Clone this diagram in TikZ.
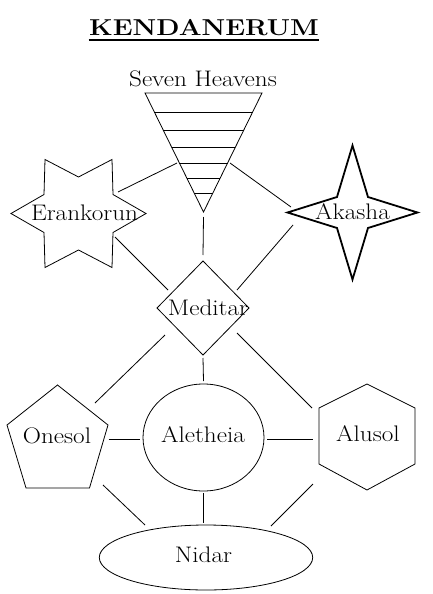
\documentclass[tikz,border=0pt]{standalone}
\usepackage{fontspec}
\usetikzlibrary{calc}
\newcommand\gw[1]{\scalebox{1.12}[1]{#1}}
\begin{document}
\begin{tikzpicture}[x=1pt,y=-1pt,line width=0.8pt,
  lbl/.style={font=\fontsize{22.5}{24}\selectfont\addfontfeature{FakeBold=0.6},inner sep=0pt,anchor=base},
  thick star/.style={line width=1.8pt,line join=miter},
  conn/.style={line width=0.8pt}]
\useasboundingbox (0,0) rectangle (432,594);

% title
\node[inner sep=0pt,anchor=base,font=\fontsize{23}{26}\selectfont\bfseries] (title) at (204,36) {\scalebox{1.17}[1]{KENDANERUM}};
\draw[line width=1.3pt] ([yshift=-4pt]title.base west) -- ([yshift=-4pt]title.base east);

% Seven Heavens
\node[lbl] (heav) at (203,86) {\gw{Seven Heavens}};
\coordinate (tri) at (203.5,152);
\draw ($(tri)+(-58.5,-59)$) coordinate (tl) -- ($(tri)+(58.5,-59)$) coordinate (tr)
  -- ($(tri)+(0,60)$) coordinate (ap) -- cycle;
\foreach \f in {0.160,0.311,0.454,0.588,0.714,0.840}
  \draw ($(tl)!\f!(ap)$) -- ($(tr)!\f!(ap)$);

% Erankorun
\coordinate (eran) at (78.5,213.5);
\draw[line join=miter] ($(eran)+(67.5,0)$) -- ($(eran)+(34.5,19)$) -- ($(eran)+(33.5,54)$)
  -- ($(eran)+(0,36.5)$) -- ($(eran)+(-33.5,54)$) -- ($(eran)+(-34.5,19)$)
  -- ($(eran)+(-67.5,0)$) -- ($(eran)+(-34.5,-19)$) -- ($(eran)+(-33.5,-54)$)
  -- ($(eran)+(0,-36.5)$) -- ($(eran)+(33.5,-54)$) -- ($(eran)+(34.5,-19)$) -- cycle;
\node[lbl] (erant) at (84.5,220) {\gw{Erankorun}};

% Akasha
\coordinate (ak) at (352.5,212.5);
\draw[thick star] ($(ak)+(0,-67)$) -- ($(ak)+(15.5,-15.5)$) -- ($(ak)+(65,0)$)
  -- ($(ak)+(15.5,15.5)$) -- ($(ak)+(0,67)$) -- ($(ak)+(-15.5,15.5)$)
  -- ($(ak)+(-65,0)$) -- ($(ak)+(-15.5,-15.5)$) -- cycle;
\node[lbl] (akt) at (352.5,219) {\gw{Akasha}};

% Meditar
\coordinate (med) at (203,308);
\draw ($(med)+(0,-47)$) -- ($(med)+(46,0)$) -- ($(med)+(0,47)$) -- ($(med)+(-46,0)$) -- cycle;
\node[lbl] (medt) at (208,315) {\gw{Meditar}};

% Onesol
\coordinate (ones) at (57.5,440);
\draw ($(ones)+(0,-55)$) -- ($(ones)+(50.5,-15)$) -- ($(ones)+(32,48)$)
  -- ($(ones)+(-31.5,48)$) -- ($(ones)+(-50.5,-15)$) -- cycle;
\node[lbl] (onest) at (57,443) {\gw{Onesol}};

% Aletheia
\coordinate (alet) at (203.5,437.5);
\draw (alet) ellipse [x radius=60.5,y radius=53.5];
\node[lbl] (alett) at (203,442) {\gw{Aletheia}};

% Alusol
\coordinate (alus) at (367,437);
\draw ($(alus)+(0,-53)$) -- ($(alus)+(48,-29)$) -- ($(alus)+(48,27)$) -- ($(alus)+(0,53)$)
  -- ($(alus)+(-48,27)$) -- ($(alus)+(-48,-29)$) -- cycle;
\node[lbl] (alust) at (368,441) {\gw{Alusol}};

% Nidar
\coordinate (nid) at (206,557.5);
\draw (nid) ellipse [x radius=106.7,y radius=32.5];
\node[lbl] (nidt) at (203.5,562) {\gw{Nidar}};

% connectors
\draw[conn] ($(tri)+(-26.5,11)$) -- ($(eran)+(39.5,-21.5)$);
\draw[conn] ($(tri)+(26.5,11)$) -- ($(ak)+(-61.5,-5.5)$);
\draw[conn] ($(tri)+(0,65)$) -- ($(med)+(0,-53)$);
\draw[conn] ($(eran)+(36.5,23.5)$) -- ($(med)+(-35,-18)$);
\draw[conn] ($(ak)+(-59.5,12.5)$) -- ($(med)+(34,-18)$);
\draw[conn] ($(med)+(-38,27)$) -- ($(ones)+(37.5,-37)$);
\draw[conn] ($(med)+(0,50)$) -- ($(alet)+(0,-56.5)$);
\draw[conn] ($(med)+(34,25)$) -- ($(alus)+(-55,-29)$);
\draw[conn] ($(ones)+(51,-1)$) -- ($(alet)+(-63.5,1.5)$);
\draw[conn] ($(alet)+(63.5,1.5)$) -- ($(alus)+(-54,2)$);
\draw[conn] ($(alet)+(0,55.5)$) -- ($(nid)+(-2.5,-34.5)$);
\draw[conn] ($(ones)+(45.5,45)$) -- ($(nid)+(-61,-32.5)$);
\draw[conn] ($(alus)+(-54,47)$) -- ($(nid)+(65,-31.5)$);
\end{tikzpicture}
\end{document}
